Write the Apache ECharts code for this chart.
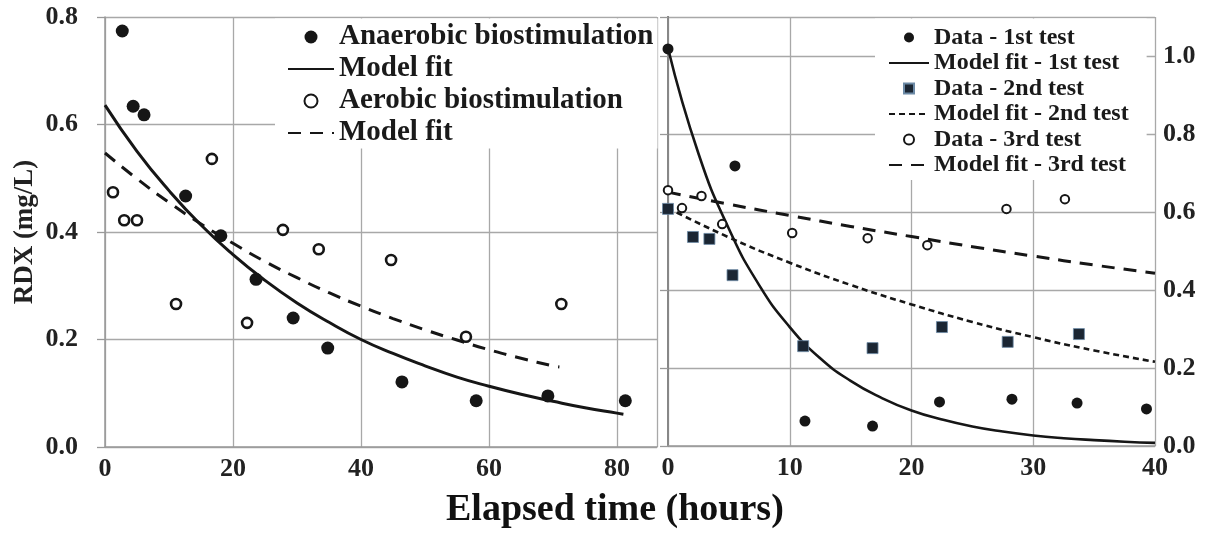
<!DOCTYPE html>
<html><head><meta charset="utf-8">
<script src="https://cdn.jsdelivr.net/npm/echarts@6/dist/echarts.min.js"></script>
<style>html,body{margin:0;padding:0;background:#fff}#c{width:1209px;height:539px}</style>
</head><body><div id="c"></div>
<script>
const FONT = '"Liberation Serif", "Times New Roman", serif';
// ---- Left panel data ----
const anaerobicTime = [2.7, 4.4, 6.1, 12.6, 18.1, 23.6, 29.4, 34.8, 46.4, 58.0, 69.2, 81.3];
const anaerobicRDX  = [0.774, 0.634, 0.618, 0.467, 0.393, 0.312, 0.240, 0.184, 0.121, 0.086, 0.095, 0.086];
const aerobicTime = [1.25, 3.0, 5.0, 11.1, 16.7, 22.2, 27.8, 33.4, 44.7, 56.4, 71.3];
const aerobicRDX  = [0.474, 0.422, 0.422, 0.266, 0.536, 0.231, 0.404, 0.368, 0.348, 0.205, 0.266];
const anaFitTime = [0, 5, 10, 15, 20, 25, 30, 35, 40, 45, 50, 55, 60, 65, 70, 75, 80, 81];
const anaFitRDX  = [0.636, 0.55, 0.477, 0.413, 0.358, 0.31, 0.268, 0.232, 0.20, 0.174, 0.151, 0.13, 0.113, 0.098, 0.085, 0.073, 0.063, 0.061];
const aeroFitTime = [0, 5, 10, 15, 20, 25, 30, 35, 40, 45, 50, 55, 60, 65, 70, 71];
const aeroFitRDX  = [0.547, 0.499, 0.455, 0.415, 0.379, 0.345, 0.315, 0.287, 0.262, 0.239, 0.218, 0.199, 0.181, 0.165, 0.151, 0.149];
const leftXTicks = [0, 20, 40, 60, 80];
const leftYTicks = [0.0, 0.2, 0.4, 0.6, 0.8];
// ---- Right panel data ----
const test1Time = [0, 5.5, 11.25, 16.8, 22.3, 28.25, 33.6, 39.3];
const test1RDX  = [1.018, 0.718, 0.064, 0.051, 0.113, 0.120, 0.110, 0.095];
const test2Time = [0, 2.05, 3.4, 5.3, 11.1, 16.8, 22.5, 27.9, 33.75];
const test2RDX  = [0.608, 0.536, 0.531, 0.438, 0.256, 0.251, 0.305, 0.267, 0.287];
const test3Time = [0, 1.15, 2.75, 4.45, 10.2, 16.4, 21.3, 27.8, 32.6];
const test3RDX  = [0.656, 0.610, 0.641, 0.569, 0.546, 0.533, 0.515, 0.608, 0.633];
const fit1Time = [0, 2.5, 5, 7.5, 10, 12.5, 15, 17.5, 20, 22.5, 25, 27.5, 30, 32.5, 35, 37.5, 40];
const fit1RDX  = [1.02, 0.75, 0.557, 0.412, 0.305, 0.225, 0.167, 0.124, 0.091, 0.068, 0.050, 0.037, 0.027, 0.020, 0.015, 0.011, 0.008];
const fit2Time = [0, 5, 10, 15, 20, 25, 30, 35, 40];
const fit2RDX  = [0.61, 0.535, 0.47, 0.413, 0.363, 0.318, 0.279, 0.245, 0.216];
const fit3Time = [0, 5, 10, 15, 20, 25, 30, 35, 40];
const fit3RDX  = [0.651, 0.62, 0.591, 0.563, 0.537, 0.511, 0.487, 0.464, 0.443];
const rightXTicks = [0, 10, 20, 30, 40];
const rightYTicks = [0.0, 0.2, 0.4, 0.6, 0.8, 1.0];

const zip = (xs, ys) => xs.map((x, i) => [x, ys[i]]);
const INK = '#161616';
const GRID = '#a8a8a8';
const labelStyle = { fontFamily: FONT, fontWeight: 'bold', fontSize: 26, color: '#222' };
const SQUARE = 'path://M0 0H10V10H0Z';
const noSym = { opacity: 0 };

const chart = echarts.init(document.getElementById('c'), null, { renderer: 'canvas' });
const names = {
  'ana': 'Anaerobic biostimulation', 'anaFit': 'Model fit', 'aero': 'Aerobic biostimulation', 'aeroFit': 'Model fit'
};
chart.setOption({
  animation: false,
  backgroundColor: '#fff',
  grid: [
    { left: 105, top: 17, width: 552, height: 430 },
    { left: 668, top: 17, width: 487, height: 429 }
  ],
  xAxis: [
    { gridIndex: 0, type: 'value', min: leftXTicks[0], max: 86.25, interval: 20,
      axisLine: { show: true, lineStyle: { color: '#999', width: 1.5 } }, axisTick: { show: false },
      axisLabel: { ...labelStyle, margin: 9, showMaxLabel: false },
      splitLine: { show: true, lineStyle: { color: GRID, width: 1.3 } } },
    { gridIndex: 1, type: 'value', min: rightXTicks[0], max: 40, interval: 10,
      axisLine: { show: true, lineStyle: { color: '#999', width: 1.5 } }, axisTick: { show: false },
      axisLabel: { ...labelStyle, margin: 9 },
      splitLine: { show: true, lineStyle: { color: GRID, width: 1.3 } } }
  ],
  yAxis: [
    { gridIndex: 0, type: 'value', min: leftYTicks[0], max: 0.8, interval: 0.2,
      name: 'RDX (mg/L)', nameLocation: 'middle', nameGap: 66, nameRotate: 90,
      nameTextStyle: { fontFamily: FONT, fontWeight: 'bold', fontSize: 27, color: '#222' },
      axisLine: { show: true, lineStyle: { color: '#999', width: 1.5 } },
      axisTick: { show: true, length: 8, lineStyle: { color: '#999', width: 1.3 } },
      axisLabel: { ...labelStyle, margin: 27, formatter: v => v.toFixed(1) },
      splitLine: { show: true, lineStyle: { color: GRID, width: 1.3 } } },
    { gridIndex: 1, type: 'value', position: 'right', min: rightYTicks[0], max: 1.1, interval: 0.2,
      axisLine: { show: true, lineStyle: { color: '#555', width: 2 } }, axisTick: { show: false },
      axisLabel: { ...labelStyle, margin: 8, showMaxLabel: false, formatter: v => v.toFixed(1) },
      splitLine: { show: true, lineStyle: { color: GRID, width: 1.3 } } },
    { gridIndex: 1, type: 'value', position: 'left', min: rightYTicks[0], max: 1.1, interval: 0.2,
      axisLine: { show: true, lineStyle: { color: '#999', width: 1.5 } },
      axisTick: { show: true, length: 8, lineStyle: { color: '#999', width: 1.3 } },
      axisLabel: { show: false }, splitLine: { show: false } }
  ],
  legend: [
    { left: 275, top: 18.5, orient: 'vertical', backgroundColor: '#fff', padding: [4, 4, 1, 12],
      itemWidth: 46, itemHeight: 13, itemGap: 3,
      textStyle: { fontFamily: FONT, fontWeight: 'bold', fontSize: 29, lineHeight: 28, color: '#1a1a1a' },
      data: [
        { name: 'ana' },
        { name: 'anaFit', itemStyle: noSym },
        { name: 'aero' },
        { name: 'aeroFit', itemStyle: noSym }
      ], formatter: n => names[n] },
    { left: 875, top: 18.5, orient: 'vertical', backgroundColor: '#fff', padding: [7, 18, 3, 13],
      itemWidth: 40, itemHeight: 10, itemGap: 1.5,
      textStyle: { fontFamily: FONT, fontWeight: 'bold', fontSize: 24, lineHeight: 24, color: '#1a1a1a' },
      data: [
        { name: 'Data - 1st test' },
        { name: 'Model fit - 1st test', itemStyle: noSym },
        { name: 'Data - 2nd test', icon: SQUARE },
        { name: 'Model fit - 2nd test', itemStyle: noSym },
        { name: 'Data - 3rd test' },
        { name: 'Model fit - 3rd test', itemStyle: noSym }
      ] }
  ],
  graphic: [
    { type: 'text', left: 446, top: 491, style: { text: 'Elapsed time (hours)', fontFamily: FONT, fontWeight: 'bold', fontSize: 38, fill: '#111' }, z: 10 }
  ],
  series: [
    { name: 'anaFit', type: 'line', xAxisIndex: 0, yAxisIndex: 0, data: zip(anaFitTime, anaFitRDX), smooth: true,
      showSymbol: false, symbol: 'none', lineStyle: { color: INK, width: 3 }, itemStyle: { color: INK }, z: 3 },
    { name: 'aeroFit', type: 'line', xAxisIndex: 0, yAxisIndex: 0, data: zip(aeroFitTime, aeroFitRDX), smooth: true,
      showSymbol: false, symbol: 'none', lineStyle: { color: INK, width: 3, type: [13, 9] }, itemStyle: { color: INK }, z: 3 },
    { name: 'ana', type: 'scatter', xAxisIndex: 0, yAxisIndex: 0, data: zip(anaerobicTime, anaerobicRDX),
      symbol: 'circle', symbolSize: 13, itemStyle: { color: INK, opacity: 1 }, z: 4 },
    { name: 'aero', type: 'scatter', xAxisIndex: 0, yAxisIndex: 0, data: zip(aerobicTime, aerobicRDX),
      symbol: 'circle', symbolSize: 10, itemStyle: { color: '#fff', borderColor: INK, borderWidth: 2.6, opacity: 1 }, z: 4 },

    { name: 'Data - 1st test', type: 'scatter', xAxisIndex: 1, yAxisIndex: 1, data: zip(test1Time, test1RDX),
      symbol: 'circle', symbolSize: 11, itemStyle: { color: INK, opacity: 1 }, z: 4 },
    { name: 'Model fit - 1st test', type: 'line', xAxisIndex: 1, yAxisIndex: 1, data: zip(fit1Time, fit1RDX), smooth: true,
      showSymbol: false, symbol: 'none', lineStyle: { color: INK, width: 2.6 }, itemStyle: { color: INK }, z: 3 },
    { name: 'Data - 2nd test', type: 'scatter', xAxisIndex: 1, yAxisIndex: 1, data: zip(test2Time, test2RDX),
      symbol: 'rect', symbolSize: 11, itemStyle: { color: '#1b2633', borderColor: '#6c8aa6', borderWidth: 0.8, opacity: 1 }, z: 4 },
    { name: 'Model fit - 2nd test', type: 'line', xAxisIndex: 1, yAxisIndex: 1, data: zip(fit2Time, fit2RDX), smooth: true,
      showSymbol: false, symbol: 'none', lineStyle: { color: INK, width: 2.6, type: [6, 4] }, itemStyle: { color: INK }, z: 3 },
    { name: 'Data - 3rd test', type: 'scatter', xAxisIndex: 1, yAxisIndex: 1, data: zip(test3Time, test3RDX),
      symbol: 'circle', symbolSize: 8.5, itemStyle: { color: '#fff', borderColor: INK, borderWidth: 2, opacity: 1 }, z: 4 },
    { name: 'Model fit - 3rd test', type: 'line', xAxisIndex: 1, yAxisIndex: 1, data: zip(fit3Time, fit3RDX), smooth: true,
      showSymbol: false, symbol: 'none', lineStyle: { color: INK, width: 3, type: [13, 9] }, itemStyle: { color: INK }, z: 3 }
  ]
});
</script></body></html>
